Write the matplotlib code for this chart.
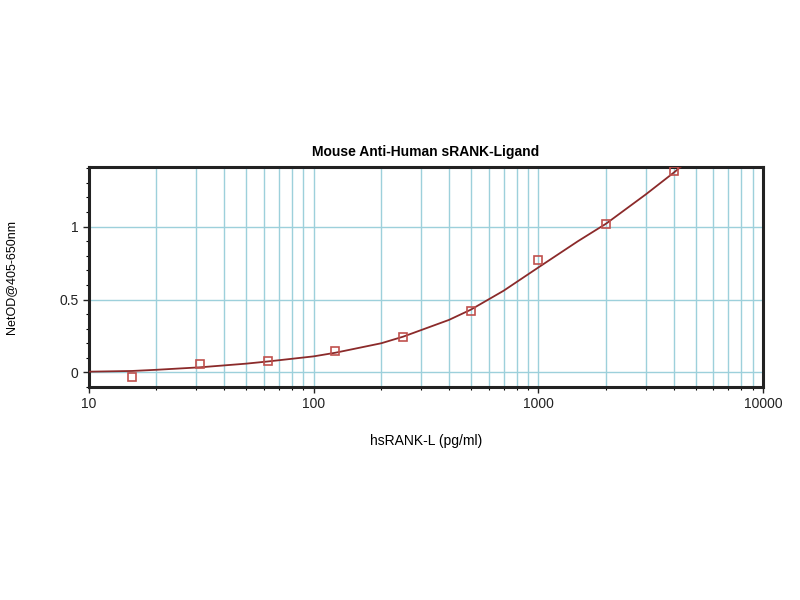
import numpy as np
import matplotlib
matplotlib.use("Agg")
import matplotlib.pyplot as plt
from matplotlib.ticker import LogLocator, MultipleLocator, NullFormatter

plt.rcParams['font.family'] = ['Liberation Sans', 'DejaVu Sans']

# standards (pg/ml) and measured net OD
conc = [15.6, 31.25, 62.5, 125, 250, 500, 1000, 2000, 4000]
od = [-0.03, 0.06, 0.08, 0.15, 0.24, 0.42, 0.77, 1.02, 1.38]

# fitted curve
fit_x = [10, 15.6, 20, 31.25, 50, 62.5, 100, 125, 200, 250, 400, 500,
         700, 1000, 1500, 2000, 3000, 4000, 4300]
fit_y = [0.005, 0.01, 0.018, 0.035, 0.06, 0.075, 0.11, 0.135, 0.2, 0.245,
         0.36, 0.43, 0.56, 0.72, 0.9, 1.02, 1.22, 1.37, 1.41]

fig = plt.figure(figsize=(8, 6), dpi=100)
ax = fig.add_axes([0.111, 0.355, 0.843, 0.367])

ax.plot(fit_x, fit_y, color='#8b2a2a', lw=1.3, zorder=3)
ax.plot(conc, od, ls='none', marker='s', ms=6, mfc='none', mec='#c0504d',
        mew=1.2, zorder=4)

ax.set_xscale('log')
ax.set_xlim(10, 10000)
ax.set_ylim(-0.1, 1.41)

ax.xaxis.set_minor_locator(LogLocator(base=10, subs=np.arange(2, 10)))
ax.xaxis.set_minor_formatter(NullFormatter())
ax.set_xticks([10, 100, 1000, 10000])
ax.set_xticklabels(['10', '100', '1000', '10000'])
ax.set_yticks([0, 0.5, 1])
ax.set_yticklabels(['0', '0.5', '1'])
ax.yaxis.set_minor_locator(MultipleLocator(0.1))

grid_c = '#9dd0db'
ax.grid(True, which='both', axis='x', color=grid_c, lw=1.0)
ax.grid(True, which='major', axis='y', color=grid_c, lw=1.0)
ax.set_axisbelow(True)

for s in ax.spines.values():
    s.set_linewidth(2.2)
    s.set_color('#222222')

ax.tick_params(which='major', length=4, width=1, labelsize=10, colors='#222222')
ax.tick_params(which='minor', length=2.5, width=0.8)

ax.set_title('Mouse Anti-Human sRANK-Ligand', fontsize=10, fontweight='bold', pad=8)
ax.set_xlabel('hsRANK-L (pg/ml)', fontsize=10, labelpad=16)
ax.set_ylabel('NetOD@405-650nm', fontsize=9, labelpad=30)

fig.savefig('out.png', dpi=100)
